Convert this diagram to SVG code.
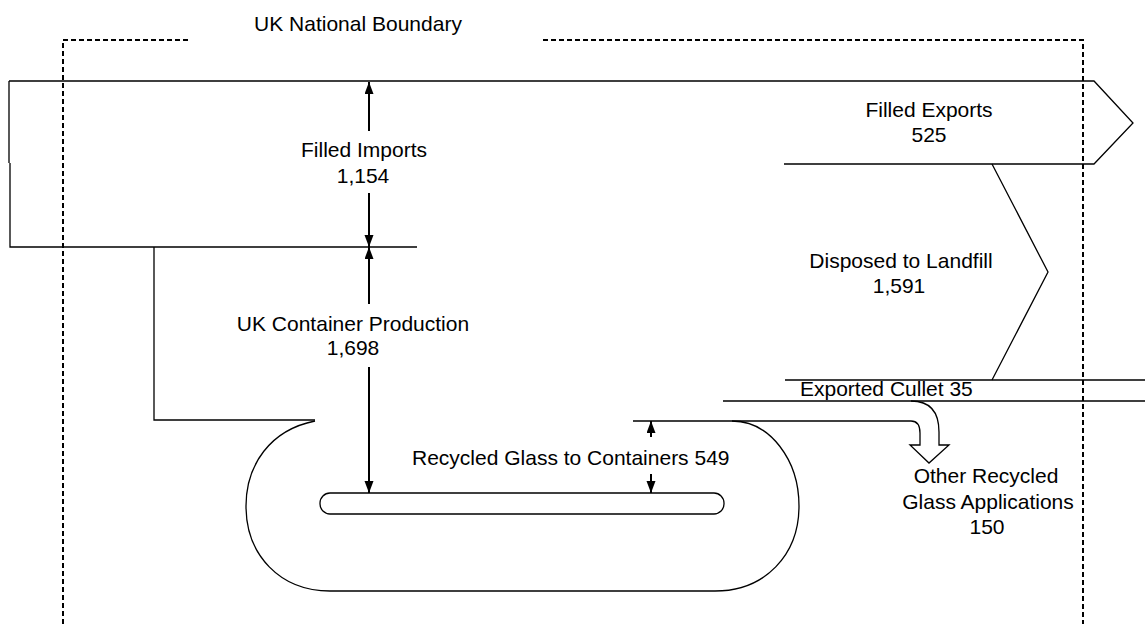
<svg xmlns="http://www.w3.org/2000/svg" width="1146" height="624" viewBox="0 0 1146 624">
<style>
.o{fill:none;stroke:#000;stroke-width:1.3}
.b{fill:none;stroke:#000;stroke-width:2;stroke-dasharray:5 3}
.a{fill:none;stroke:#000;stroke-width:2;marker-end:url(#ah)}
text{font-family:"Liberation Sans",Arial,sans-serif;font-size:21px;fill:#000}
.c{text-anchor:middle}
</style>
<defs>
<marker id="ah" markerUnits="userSpaceOnUse" markerWidth="12" markerHeight="12" refX="12" refY="4.5" orient="auto"><path d="M0,0 L12,4.5 L0,9 z" fill="#000"/></marker>
</defs>
<rect width="1146" height="624" fill="#fff"/>
<g id="boundary">
<path class="b" d="M63,624 V40 H191 M543,40 H1083 V624"/>
<text class="c" x="358" y="31">UK National Boundary</text>
</g>
<g id="connectors">
<path class="o" d="M9,81 H1094 L1133,123 L1094,164 H784"/>
<path class="o" d="M9,81 V163 M10,163 V247 H417"/>
<path class="o" d="M154,247 V420 H315"/>
<path class="o" d="M992,164 L1048,272 L992,380"/>
<path class="o" d="M785,380 H1145 M723,401 H1145"/>
<path class="o" d="M315,421 C270,430 246,465 246,506 C246,555 280,591 330,591 H715 C765,591 799,555 799,506 C799,460 770,421 732,421"/>
<path class="o" d="M633,421 H911 Q920,421 920,433 V445 H910 L929,463 L949,445 H939 V432 Q939,401 911,401"/>
<rect class="o" x="320" y="493" width="404" height="21" rx="10"/>
<path class="a" d="M369,131 V82"/>
<path class="a" d="M369,193 V247"/>
<path class="a" d="M369,304 V247"/>
<path class="a" d="M369,367 V493"/>
<path class="a" d="M651,437 V421"/>
<path class="a" d="M651,474 V493"/>
</g>
<g id="filled-imports"><text class="c" x="364" y="157">Filled Imports</text><text class="c" x="363" y="183">1,154</text></g>
<g id="uk-production"><text class="c" x="353" y="331">UK Container Production</text><text class="c" x="353" y="355">1,698</text></g>
<g id="recycled-containers"><text x="412" y="465">Recycled Glass to Containers 549</text></g>
<g id="filled-exports"><text class="c" x="929" y="117">Filled Exports</text><text class="c" x="929" y="142">525</text></g>
<g id="landfill"><text class="c" x="901" y="268">Disposed to Landfill</text><text class="c" x="899" y="293">1,591</text></g>
<g id="exported-cullet"><text x="800" y="396">Exported Cullet 35</text></g>
<g id="other-recycled"><text class="c" x="986" y="483">Other Recycled</text><text class="c" x="988" y="509">Glass Applications</text><text class="c" x="987" y="534">150</text></g>
</svg>
